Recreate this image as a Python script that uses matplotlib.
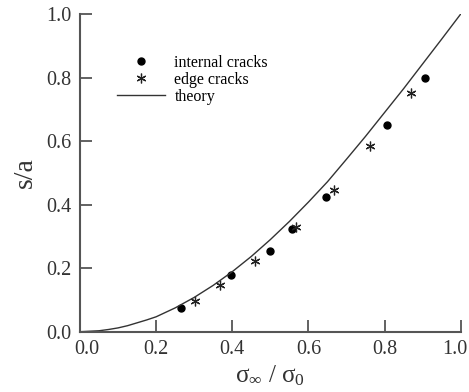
import matplotlib
matplotlib.use('Agg')
import matplotlib.pyplot as plt
from matplotlib.transforms import ScaledTranslation

plt.rcParams['font.family'] = ['Liberation Serif', 'DejaVu Serif']
plt.rcParams['mathtext.fontset'] = 'custom'
plt.rcParams['mathtext.rm'] = 'Liberation Serif'
plt.rcParams['mathtext.it'] = 'Liberation Serif'
plt.rcParams['mathtext.default'] = 'regular'

# данные
internal_x = [0.266, 0.397, 0.500, 0.556, 0.645, 0.807, 0.905]
internal_y = [0.074, 0.178, 0.255, 0.323, 0.425, 0.650, 0.800]

edge_x = [0.303, 0.368, 0.459, 0.568, 0.668, 0.763, 0.870]
edge_y = [0.098, 0.147, 0.222, 0.330, 0.446, 0.585, 0.750]

theory_x = [0.0, 0.05, 0.075, 0.10, 0.125, 0.15, 0.175, 0.20, 0.25, 0.30, 0.35, 0.40, 0.45, 0.50,
            0.55, 0.60, 0.65, 0.70, 0.75, 0.80, 0.85, 0.90, 0.95, 1.00]
theory_y = [0.0, 0.003, 0.007, 0.012, 0.019, 0.028, 0.037, 0.047, 0.075, 0.108, 0.146, 0.189, 0.237, 0.290,
            0.347, 0.408, 0.472, 0.543, 0.615, 0.690, 0.765, 0.843, 0.921, 1.000]

ticks = [0.0, 0.2, 0.4, 0.6, 0.8, 1.0]
grey = '#555555'
txt = '#333333'

fig = plt.figure(figsize=(4.69, 3.92), dpi=100)
ax = fig.add_axes([0.1706, 0.1538, 0.8117, 0.8104])

ax.plot(internal_x, internal_y, 'o', color='black', markersize=5, label='internal cracks')
ax.plot(edge_x, edge_y, linestyle='none', marker=(6, 2, 0), color='#222222',
        markersize=7, markeredgewidth=0.9, label='edge cracks')
ax.plot(theory_x, theory_y, '-', color='#333333', linewidth=1.0, label='theory')

ax.set_xlim(0, 1)
ax.set_ylim(0, 1)
ax.set_xticks(ticks)
ax.set_yticks(ticks)
ax.set_xticklabels(['%.1f' % t for t in ticks])
ax.set_yticklabels(['%.1f' % t for t in ticks])

for s in ['top', 'right']:
    ax.spines[s].set_visible(False)
for s in ['left', 'bottom']:
    ax.spines[s].set_color(grey)
    ax.spines[s].set_linewidth(1.5)

ax.tick_params(direction='in', length=8.5, width=1.3, color=grey,
               labelsize=14.5, pad=6, labelcolor=txt)

# крайние подписи по оси x сдвинуты внутрь, как на оригинале
xt = ax.xaxis.get_major_ticks()
xt[0].label1.set_transform(xt[0].label1.get_transform() + ScaledTranslation(0.07, 0, fig.dpi_scale_trans))
xt[-1].label1.set_transform(xt[-1].label1.get_transform() + ScaledTranslation(-0.06, 0, fig.dpi_scale_trans))

ax.set_xlabel(r'$\sigma_{\infty}$ / $\sigma_0$', fontsize=18, color=txt, labelpad=3)
ax.set_ylabel('s/a', fontsize=20, color=txt, labelpad=6)

ax.legend(loc='upper left', bbox_to_anchor=(0.097, 0.871), frameon=False,
          fontsize=11.5, handlelength=3.0, handletextpad=0.6, labelspacing=0.05,
          borderpad=0, borderaxespad=0)

fig.savefig('out.png', dpi=100)
